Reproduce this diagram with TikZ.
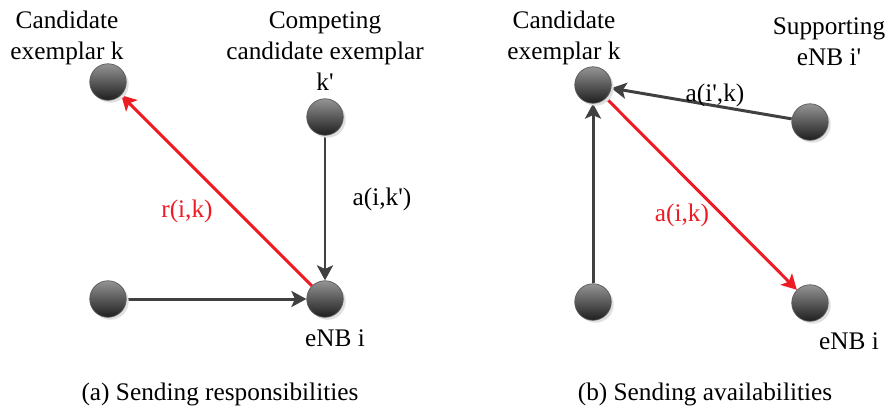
\documentclass[tikz,border=0pt]{standalone}
\usepackage{fontspec}
\setmainfont{Liberation Serif}
\usepackage{tikz}
\definecolor{darkline}{RGB}{64,64,64}
\definecolor{msgred}{RGB}{237,28,36}
\usetikzlibrary{arrows.meta}
\usetikzlibrary{shadows}
\pgfdeclarelayer{edgelayer}
\pgfdeclarelayer{nodelayer}
\pgfsetlayers{edgelayer,nodelayer,main}
\tikzstyle{enb}=[circle,inner sep=0pt,minimum size=0.73cm,top color=black!42,bottom color=black!88,draw=black!65,thin,drop shadow={shadow xshift=0.05cm,shadow yshift=-0.05cm,fill=black!12,opacity=1}]
\tikzstyle{lbl}=[align=center,inner sep=0pt,font=\fontsize{14.4}{17.6}\selectfont]
\tikzstyle{msg}=[-{Stealth[length=0.3cm,width=0.32cm,inset=0.07cm]},line width=1.7pt,draw=darkline]
\tikzstyle{redmsg}=[msg,draw=msgred]

\begin{document}
\begin{tikzpicture}[x=0.02cm,y=-0.02cm]
        \useasboundingbox (0,0) rectangle (892,413);
        \begin{pgfonlayer}{nodelayer}
            % (a) responsibilities
            \node [style = enb] (ka) at (108, 82) {};
            \node [style = enb] (kpa) at (325, 117) {};
            \node [style = enb] (oa) at (108, 299) {};
            \node [style = enb] (ia) at (325, 299) {};

            \node [style = lbl] (kalbl) at (67, 38) {Candidate\\exemplar k};
            \node [style = lbl] (kpalbl) at (325, 51) {Competing\\candidate exemplar\\k\textquotesingle};
            \node [style = lbl] (ialbl) at (335, 338) {eNB i};
            \node [style = lbl] (apa) at (382, 199) {a(i,k\textquotesingle)};
            \node [style = lbl, text=msgred] (ra) at (187, 211) {r(i,k)};
            \node [style = lbl] (capa) at (220, 394) {(a) Sending responsibilities};

            % (b) availabilities
            \node [style = enb] (kb) at (593, 85) {};
            \node [style = enb] (ipb) at (810, 122) {};
            \node [style = enb] (ob) at (593, 302) {};
            \node [style = enb] (ib) at (810, 303) {};

            \node [style = lbl] (kblbl) at (564, 38) {Candidate\\exemplar k};
            \node [style = lbl] (ipblbl) at (829, 42) {Supporting\\eNB i\textquotesingle};
            \node [style = lbl] (iblbl) at (849, 341) {eNB i};
            \node [style = lbl] (apb) at (715, 95) {a(i\textquotesingle,k)};
            \node [style = lbl, text=msgred] (ab) at (682, 215) {a(i,k)};
            \node [style = lbl] (capb) at (705, 394) {(b) Sending availabilities};
        \end{pgfonlayer}

        \begin{pgfonlayer}{edgelayer}
            \draw [style = msg] (oa) to (ia);
            \draw [style = msg] (kpa) to (ia);
            \draw [style = redmsg] (ia) to (ka);

            \draw [style = msg] (ob) to (kb);
            \draw [style = msg] (ipb) to (kb);
            \draw [style = redmsg] (kb) to (ib);
        \end{pgfonlayer}
    \end{tikzpicture}
\end{document}
